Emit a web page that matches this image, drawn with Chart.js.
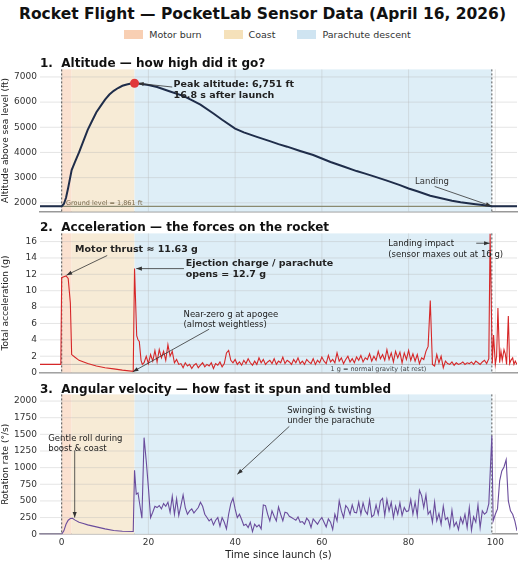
<!DOCTYPE html>
<html><head><meta charset="utf-8">
<script src="https://cdn.jsdelivr.net/npm/chart.js@4"></script>
<style>
body{margin:0;width:525px;height:565px;background:#fff;font-family:"DejaVu Sans",sans-serif;position:relative;overflow:hidden}
#title{position:absolute;top:5px;left:0;width:525px;text-align:center;font-weight:bold;font-size:15.5px;color:#111}
#legend{position:absolute;top:29px;left:0;width:525px;text-align:center;font-size:9.5px;color:#333}
#legend span.b{display:inline-block;width:19px;height:9px;vertical-align:-1px;margin:0 6px 0 10px}
.st{position:absolute;left:40px;font-weight:bold;font-size:12px;color:#111}
.c{position:absolute;left:0;width:525px}
</style></head><body>
<div class="c" style="top:61px;height:159px"><canvas id="c1"></canvas></div>
<div class="c" style="top:225px;height:156px"><canvas id="c2"></canvas></div>
<div class="c" style="top:386px;height:175px"><canvas id="c3"></canvas></div>
<div id="title">Rocket Flight — PocketLab Sensor Data (April 16, 2026)</div>
<div id="legend"><span class="b" style="background:#f8cfb3"></span>Motor burn<span class="b" style="background:#f5e1ba;margin-left:22px"></span>Coast<span class="b" style="background:#cfe4f1;margin-left:22px"></span>Parachute descent</div>
<div class="st" style="top:56px">1.&nbsp; Altitude — how high did it go?</div>
<div class="st" style="top:220px">2.&nbsp; Acceleration — the forces on the rocket</div>
<div class="st" style="top:382px">3.&nbsp; Angular velocity — how fast it spun and tumbled</div>
<script>
// ---- data ----
const phases = {burnEnd:2.3, apogee:16.8, landing:99.2};
const groundLevel = 1861;
const xTicks = [0,20,40,60,80,100];

const altT = [-5,0,0.5,1,1.5,2.3,3,4,5,6,7,8,9,10,11,12,13,14,15,16,16.8,18,20,22,25,28,30,32,35,37,40,42,45,48,50,52,55,58,60,62,65,68,70,72,75,78,80,82,85,88,90,92,95,97,99.2,105];
const altV = [1861,1861,1950,2200,2600,3300,3600,4000,4450,4900,5250,5600,5850,6100,6300,6450,6560,6650,6700,6740,6751,6730,6680,6600,6420,6250,6080,5900,5550,5300,4950,4800,4620,4450,4330,4230,4060,3900,3760,3620,3440,3260,3160,3050,2880,2700,2570,2460,2280,2160,2080,2020,1950,1910,1861,1861];

const accPreT = [-5,-0.2,0,0.5,1,1.5,2,2.3,3,4,6,8,10,12,14,16.5,16.8,17.3,17.6,17.9,18.3,18.6];
const accPreV = [1,1,11.6,11.7,11.8,11.5,8.5,2.2,1.9,1.5,1.1,0.8,0.6,0.45,0.3,0.15,12.7,4.5,4.0,3.8,1.5,1.0];
const accNoiseStart = 19, accNoiseStep = 0.5;
const accNoiseV = [1.2,2.0,1.1,2.2,1.4,2.7,1.3,2.8,1.8,2.6,
1.5,3.4,2.0,2.6,1.2,1.6,1.0,1.1,0.6,1.2,
0.8,1.0,0.5,0.9,1.1,0.6,0.9,1.2,0.7,1.0,
0.8,1.2,0.5,1.1,0.9,1.3,0.7,1.1,2.4,2.7,
1.5,1.2,1.6,1.0,1.3,0.9,1.5,1.1,1.7,1.2,
0.9,1.4,1.0,1.8,1.2,1.6,1.0,1.3,1.5,1.1,
1.7,1.0,1.4,1.2,1.9,1.1,1.5,1.3,1.0,1.6,
1.2,1.8,1.1,1.4,1.0,1.6,1.3,1.1,1.7,1.0,
1.5,1.2,1.9,1.4,1.1,2.1,1.3,1.6,1.2,2.4,
1.4,1.8,1.1,1.6,2.0,1.3,1.7,1.2,1.9,1.5,
2.1,1.3,1.8,1.6,2.3,1.4,2.0,1.5,2.6,1.7,
2.2,1.5,2.8,1.6,2.4,1.3,2.6,1.8,2.5,1.2,
2.4,1.6,2.7,1.5,2.3,1.4,2.2,1.1,1.8,1.6,
2.6,3.2,8.8,1.0,0.8,2.2,1.2,2.0,0.6,1.4,
1.1,1.0,1.3,0.9,1.2,1.0,1.1,1.3,1.0,1.2,
1.1,1.3,1.0,1.4,1.2,1.0,1.3,1.5,1.1,1.7];
const accTailT = [98.8,99.0,99.3,99.6,100,100.3,100.6,101,101.3,101.6,102,102.3,102.6,103,103.3,103.6,104,104.3,104.6,105];
const accTailV = [17,17,1.1,4.6,1.0,2.0,7.9,1.2,2.6,1.5,2.8,2.3,1.0,6.9,1.1,1.5,1.8,1.0,1.4,1.0];

const angPreT = [-5,0,0.5,1,1.5,2,2.5,3,4,5,6,8,10,12,14,16.5,16.8,17.2,17.6,18,18.5,19,19.5,20,20.5];
const angPreV = [0,0,50,150,210,235,240,215,180,160,140,110,80,55,45,40,960,600,620,450,240,1450,1100,700,250];
const angNoiseStart = 21, angNoiseStep = 0.5;
const angNoiseV = [330,420,400,430,380,460,420,480,330,570,
300,530,280,430,590,400,300,350,380,320,
360,400,480,420,300,250,200,230,140,210,
250,120,250,180,80,300,460,540,380,250,
300,220,130,150,100,180,40,150,110,140,
80,440,430,300,200,350,270,200,410,300,
200,330,320,270,250,230,210,260,180,190,
150,240,200,100,230,190,150,210,250,180,
110,230,180,70,300,200,500,350,250,430,
390,300,440,330,320,480,300,470,350,300,
510,260,290,440,300,500,540,280,520,350,
480,250,420,300,470,280,400,340,350,520,
300,480,280,660,580,400,590,300,350,180,
480,200,310,150,420,220,250,100,360,120,
180,70,250,160,300,100,400,60,260,180,
440,100,350,300,330,460];
const angTailT = [99.2,99.5,100,100.5,101,101.5,102,102.5,103,103.5,104,104.5,105];
const angTailV = [1480,200,300,380,800,950,1010,1120,500,350,300,200,50];

// ---- helpers ----
function pts(t,v){return t.map((x,i)=>({x,y:v[i]}));}
function noisePts(start,step,v){return v.map((y,i)=>({x:start+i*step,y}));}
const accData = pts(accPreT,accPreV).concat(noisePts(accNoiseStart,accNoiseStep,accNoiseV),pts(accTailT,accTailV));
const angData = pts(angPreT,angPreV).concat(noisePts(angNoiseStart,angNoiseStep,angNoiseV),pts(angTailT,angTailV));

const F = "'DejaVu Sans', sans-serif";
Chart.defaults.font.family = F;
Chart.defaults.color = '#333';

const bgPlugin = {
  id:'bg',
  beforeDatasetsDraw(ch){
    const {ctx,chartArea:a,scales:{x,y}} = ch;
    ctx.save();
    const band=(x0,x1,c)=>{ctx.fillStyle=c;ctx.fillRect(x.getPixelForValue(x0),a.top,x.getPixelForValue(x1)-x.getPixelForValue(x0),a.bottom-a.top);};
    band(0,phases.burnEnd,'#fbe1d0');
    band(phases.burnEnd,phases.apogee,'#f7ebd6');
    band(phases.apogee,phases.landing,'#deeef7');
    ctx.strokeStyle='rgba(180,180,180,0.35)';ctx.lineWidth=1;
    xTicks.forEach(v=>{const p=x.getPixelForValue(v);ctx.beginPath();ctx.moveTo(p,a.top);ctx.lineTo(p,a.bottom);ctx.stroke();});
    y.ticks.forEach(t=>{const p=y.getPixelForValue(t.value);ctx.beginPath();ctx.moveTo(a.left,p);ctx.lineTo(a.right,p);ctx.stroke();});
    ctx.setLineDash([2,2]);ctx.strokeStyle='#555';
    [0,phases.landing].forEach(v=>{const p=x.getPixelForValue(v);ctx.beginPath();ctx.moveTo(p,a.top);ctx.lineTo(p,a.bottom);ctx.stroke();});
    ctx.setLineDash([]);
    const ex = ch.options.plugins.bg || {};
    if(ex.hline){ctx.strokeStyle=ex.hline.color;ctx.lineWidth=ex.hline.width;const p=y.getPixelForValue(ex.hline.y);ctx.beginPath();ctx.moveTo(a.left,p);ctx.lineTo(a.right,p);ctx.stroke();}
    ctx.restore();
  },
  afterDatasetsDraw(ch){
    const {ctx,scales:{x,y}} = ch;
    const ann = (ch.options.plugins.bg||{}).ann||[];
    ctx.save();
    ann.forEach(o=>{
      if(o.arrow){
        const [fx,fy,tx,ty]=[x.getPixelForValue(o.arrow[0]),y.getPixelForValue(o.arrow[1]),x.getPixelForValue(o.arrow[2]),y.getPixelForValue(o.arrow[3])];
        ctx.strokeStyle='#333';ctx.fillStyle='#333';ctx.lineWidth=0.8;
        ctx.beginPath();ctx.moveTo(fx,fy);ctx.lineTo(tx,ty);ctx.stroke();
        const an=Math.atan2(ty-fy,tx-fx),L=6;
        ctx.beginPath();ctx.moveTo(tx,ty);ctx.lineTo(tx-L*Math.cos(an-0.35),ty-L*Math.sin(an-0.35));ctx.lineTo(tx-L*Math.cos(an+0.35),ty-L*Math.sin(an+0.35));ctx.closePath();ctx.fill();
      }
      if(o.dot){ctx.fillStyle='#e0383a';ctx.beginPath();ctx.arc(x.getPixelForValue(o.dot[0]),y.getPixelForValue(o.dot[1]),4.5,0,Math.PI*2);ctx.fill();}
      if(o.text){
        ctx.fillStyle=o.color||'#222';ctx.font=(o.bold?'bold ':'')+(o.size||9)+'px '+F;ctx.textBaseline='middle';ctx.textAlign='left';
        const px=x.getPixelForValue(o.at[0]),py=y.getPixelForValue(o.at[1]);
        o.text.forEach((l,i)=>ctx.fillText(l,px,py+i*(o.lh||11)));
      }
    });
    ctx.restore();
  }
};

function mk(id,data,color,lw,yopt,ytitle,showX,bg,pad){
  return new Chart(document.getElementById(id),{
    type:'line',
    data:{datasets:[{data,borderColor:color,borderWidth:lw,pointRadius:0,tension:0,fill:false}]},
    plugins:[bgPlugin],
    options:{
      responsive:true,maintainAspectRatio:false,animation:false,
      layout:{padding:pad},
      plugins:{legend:{display:false},tooltip:{enabled:false},bg},
      scales:{
        x:{type:'linear',min:-5,max:105,afterBuildTicks:s=>{s.ticks=xTicks.map(v=>({value:v}));},
           grid:{display:false,drawTicks:false,tickLength:0},border:{color:'#999',width:1.5},
           ticks:{display:showX,font:{size:9},color:'#333',maxRotation:0,padding:3},
           title:{display:showX,text:'Time since launch (s)',font:{size:10},color:'#222',padding:{top:-2,bottom:0}}},
        y:Object.assign({grid:{display:false,drawTicks:false,tickLength:0},border:{display:false},
           ticks:{font:{size:9},color:'#333',padding:3,callback:v=>String(v)},
           title:{display:true,text:ytitle,font:{size:9},color:'#222',padding:{top:0,bottom:1}},
           afterFit:s=>{s.width=40;}},yopt)
      }
    }
  });
}

mk('c1',pts(altT,altV),'#1f2d4a',2,{min:1650,max:7300,afterBuildTicks:s=>{s.ticks=[2000,3000,4000,5000,6000,7000].map(v=>({value:v}));}},
  'Altitude above sea level (ft)',false,
  {hline:{y:groundLevel,color:'#8a8a70',width:1.2},
   ann:[
    {arrow:[25.5,6600,17.6,6745]},
    {dot:[16.8,6751]},
    {text:['Peak altitude: 6,751 ft','16.8 s after launch'],at:[25.8,6680],bold:true,size:9.5,lh:11},
    {text:['Ground level = 1,861 ft'],at:[1,1960],size:6.5,color:'#7a6a4a'},
    {text:['Landing'],at:[81.5,2830],size:8.5,color:'#333'},
    {arrow:[86,2650,99.1,1870]}
   ]},{left:0,right:8,top:2,bottom:2});

mk('c2',accData,'#d62728',1.1,{min:0,max:17,afterBuildTicks:s=>{s.ticks=[0,2,4,6,8,10,12,14,16].map(v=>({value:v}));}},
  'Total acceleration (g)',false,
  {hline:{y:1,color:'rgba(120,120,120,0.5)',width:0.8},
   ann:[
    {text:['Motor thrust ≈ 11.63 g'],at:[3.1,15.0],bold:true,size:9.5},
    {arrow:[10.5,14.3,1.1,11.9]},
    {text:['Ejection charge / parachute','opens = 12.7 g'],at:[28.6,13.3],bold:true,size:9.5,lh:11},
    {arrow:[28.2,12.7,17.2,12.7]},
    {text:['Near-zero g at apogee','(almost weightless)'],at:[28.1,7.1],size:8.5,lh:10.5},
    {arrow:[34,5.3,16.4,0.1]},
    {text:['Landing impact','(sensor maxes out at 16 g)'],at:[75.3,15.7],size:8.5,lh:10.5},
    {arrow:[95.6,15.8,98.7,15.8]},
    {text:['1 g = normal gravity (at rest)'],at:[62,0.45],size:6.5,color:'#444'}
   ]},{left:0,right:8,top:2,bottom:2});

mk('c3',angData,'#6a4c9c',1.1,{min:0,max:2100,afterBuildTicks:s=>{s.ticks=[0,250,500,750,1000,1250,1500,1750,2000].map(v=>({value:v}));}},
  'Rotation rate (°/s)',true,
  {ann:[
    {text:['Gentle roll during','boost & coast'],at:[-3.1,1440],size:8.5,lh:10.5},
    {arrow:[3,1260,3,250]},
    {text:['Swinging & twisting','under the parachute'],at:[52,1860],size:8.5,lh:10.5},
    {arrow:[52.5,1620,40.5,900]}
   ]},{left:0,right:8,top:2,bottom:0});
</script>
</body></html>
